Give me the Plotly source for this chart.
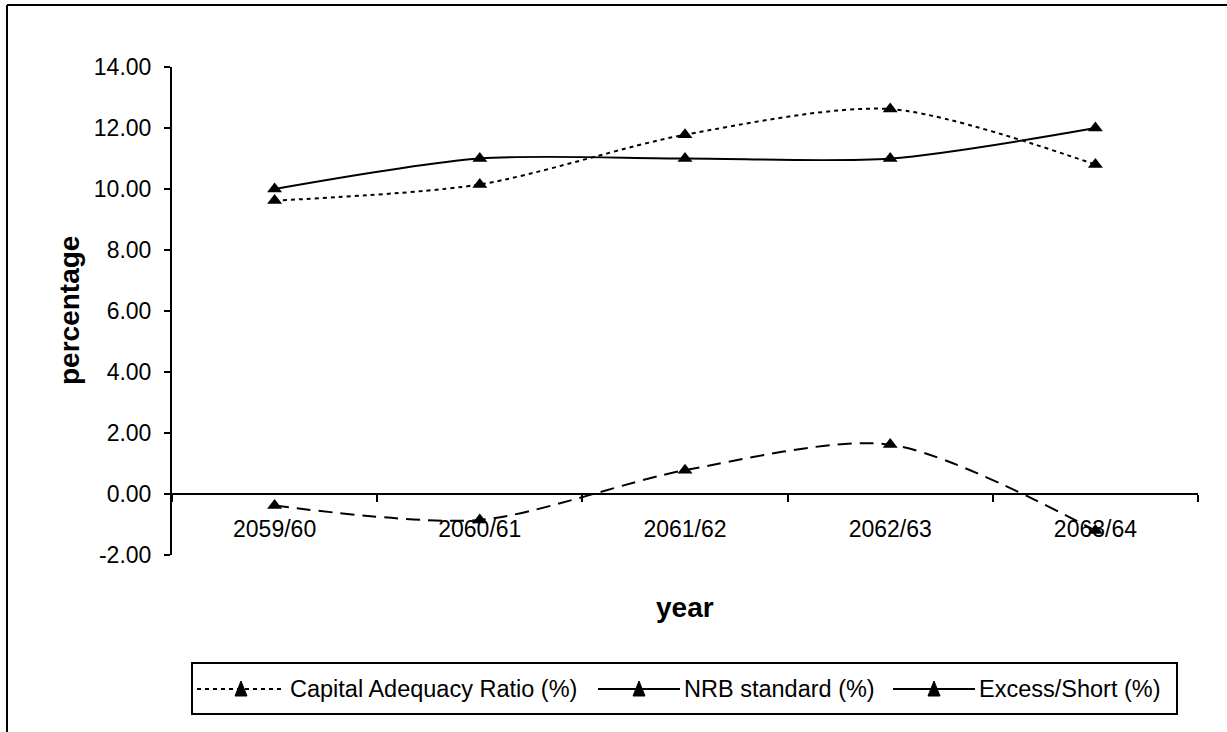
import plotly.graph_objects as go

years = ["2059/60", "2060/61", "2061/62", "2062/63", "2063/64"]
car = [9.62, 10.15, 11.78, 12.62, 10.80]
nrb = [10.0, 11.0, 11.0, 11.0, 12.0]
excess = [-0.38, -0.85, 0.78, 1.62, -1.20]
series_names = ["Capital Adequacy Ratio (%)", "NRB standard (%)", "Excess/Short (%)"]
y_ticks = [-2, 0, 2, 4, 6, 8, 10, 12, 14]
y_tick_labels = ["-2.00", "0.00", "2.00", "4.00", "6.00", "8.00", "10.00", "12.00", "14.00"]

FONT = "Liberation Sans, Arial, sans-serif"
W, H = 1227, 732
L, R, T, B = 172, 29, 67, 177
PW, PH = W - L - R, H - T - B


def px(x):
    return (x - L) / PW


def py(y):
    return (H - B - y) / PH


fig = go.Figure()
marker = dict(symbol="triangle-up", size=13, color="black")
styles = [
    dict(color="black", width=2, dash="4px,4px", shape="spline", smoothing=0.8),
    dict(color="black", width=2, shape="spline", smoothing=0.8),
    dict(color="black", width=2, dash="14px,8px", shape="spline", smoothing=0.8),
]
for name, vals, st in zip(series_names, [car, nrb, excess], styles):
    fig.add_trace(go.Scatter(x=years, y=vals, name=name, mode="lines+markers",
                             line=st, marker=marker, showlegend=False))

# custom legend (box, line samples, triangles, labels)
shapes = [
    dict(type="line", xref="paper", yref="paper", x0=px(7), x1=px(7), y0=py(735), y1=py(5),
         line=dict(color="black", width=2)),
    dict(type="line", xref="paper", yref="paper", x0=px(7), x1=px(1230), y0=py(5), y1=py(5),
         line=dict(color="black", width=2)),
    dict(type="rect", xref="paper", yref="paper", x0=px(192), x1=px(1177), y0=py(714), y1=py(663),
         line=dict(color="black", width=2), fillcolor="white", layer="below"),
]
annotations = []
ly = 689
leg_items = [(197, 285, "4px,4px", 288), (598, 680, "solid", 682), (893, 975, "solid", 977)]
for (x0, x1, dash, tx), name in zip(leg_items, series_names):
    shapes.append(dict(type="line", xref="paper", yref="paper", x0=px(x0), x1=px(x1), y0=py(ly), y1=py(ly),
                       line=dict(color="black", width=2, dash=dash)))
    cx = (x0 + x1) / 2
    shapes.append(dict(type="path", xref="paper", yref="paper",
                       path=f"M {px(cx - 6)} {py(ly + 7)} L {px(cx + 6)} {py(ly + 7)} L {px(cx)} {py(ly - 8)} Z",
                       fillcolor="black", line=dict(color="black", width=1)))
    annotations.append(dict(text=name, x=px(tx), y=py(ly), xref="paper", yref="paper",
                            xanchor="left", yanchor="middle", showarrow=False,
                            font=dict(size=23.5, family=FONT)))

annotations += [
    dict(text="<b>percentage</b>", textangle=-90, x=px(69), y=0.5,
         xref="paper", yref="paper", xanchor="center", yanchor="middle", showarrow=False,
         font=dict(size=28, family=FONT)),
    dict(text="<b>year</b>", x=0.5, y=py(607), xref="paper", yref="paper",
         xanchor="center", yanchor="middle", showarrow=False, font=dict(size=28, family=FONT)),
]

fig.update_layout(
    width=W, height=H,
    margin=dict(l=L, r=R, t=T, b=B, autoexpand=False),
    paper_bgcolor="white", plot_bgcolor="white",
    font=dict(family=FONT, color="black"),
    showlegend=False,
    xaxis=dict(type="category", range=[-0.5, 4.5], anchor="free", position=py(494),
               showline=True, linecolor="black", linewidth=2, showgrid=False, zeroline=False,
               ticks="outside", tickson="boundaries", ticklen=7, tickwidth=2, tickcolor="black",
               tickfont=dict(size=23, family=FONT), ticklabelstandoff=14),
    yaxis=dict(range=[-2, 14], tickvals=y_ticks, ticktext=y_tick_labels,
               showline=True, linecolor="black", linewidth=2, showgrid=False, zeroline=False,
               ticks="outside", ticklen=6, tickwidth=2, tickcolor="black",
               tickfont=dict(size=23, family=FONT), ticklabelstandoff=8),
    annotations=annotations,
    shapes=shapes,
)
fig.update_xaxes(position=0.125)

fig.write_html("out.html")
